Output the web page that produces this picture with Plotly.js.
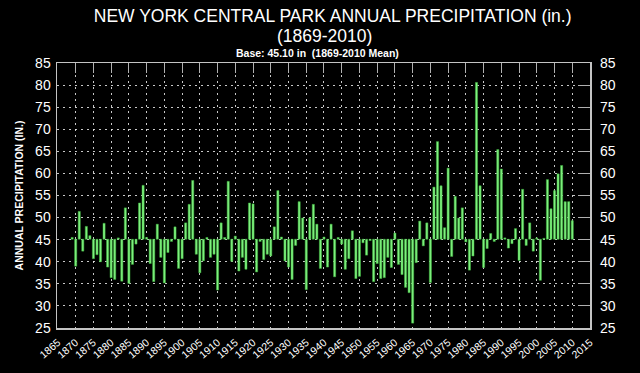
<!DOCTYPE html>
<html><head><meta charset="utf-8">
<script src="https://cdn.plot.ly/plotly-3.0.1.min.js"></script>
<style>html,body{margin:0;padding:0;background:#000;}#chart{width:640px;height:373px;}</style>
</head><body><div id="chart"></div>
<script>
const BASE = 45.10;
const years = [1869,1870,1871,1872,1873,1874,1875,1876,1877,1878,1879,
1880,1881,1882,1883,1884,1885,1886,1887,1888,1889,
1890,1891,1892,1893,1894,1895,1896,1897,1898,1899,
1900,1901,1902,1903,1904,1905,1906,1907,1908,1909,
1910,1911,1912,1913,1914,1915,1916,1917,1918,1919,
1920,1921,1922,1923,1924,1925,1926,1927,1928,1929,
1930,1931,1932,1933,1934,1935,1936,1937,1938,1939,
1940,1941,1942,1943,1944,1945,1946,1947,1948,1949,
1950,1951,1952,1953,1954,1955,1956,1957,1958,1959,
1960,1961,1962,1963,1964,1965,1966,1967,1968,1969,
1970,1971,1972,1973,1974,1975,1976,1977,1978,1979,
1980,1981,1982,1983,1984,1985,1986,1987,1988,1989,
1990,1991,1992,1993,1994,1995,1996,1997,1998,1999,
2000,2001,2002,2003,2004,2005,2006,2007,2008,2009,2010];
const precip = [45.5,39.0,51.4,42.4,48.0,45.9,40.7,41.6,40.0,48.7,38.8,
36.4,36.0,45.4,35.6,52.2,35.1,39.4,44.0,53.3,57.3,
45.5,39.6,35.5,48.5,41.0,35.2,42.1,44.6,47.9,38.5,
40.7,48.8,53.0,58.4,41.7,37.5,40.2,45.5,41.0,41.7,
33.6,48.8,45.5,58.2,40.1,45.8,37.9,41.0,38.3,53.3,
53.1,37.7,44.6,40.5,41.7,41.3,47.9,56.1,45.6,40.2,
38.8,36.0,43.7,53.6,49.9,33.7,49.9,53.0,48.5,38.5,
45.6,38.8,48.5,36.6,45.5,44.0,38.3,40.7,47.0,36.2,
36.7,44.3,41.5,44.8,35.5,39.6,36.2,36.4,41.0,38.7,
46.5,39.4,37.1,34.2,33.0,26.1,39.8,49.2,43.6,48.8,
35.3,56.9,67.2,57.2,47.7,61.2,41.2,54.8,49.9,52.2,
44.5,38.1,41.3,80.6,57.2,38.7,43.0,46.4,44.6,65.4,
61.0,45.4,43.1,44.1,47.5,40.3,56.4,43.7,48.8,42.4,
45.4,35.8,45.3,58.6,52.0,56.1,59.9,61.8,53.6,53.6,49.3];
const xTicks = [1865,1870,1875,1880,1885,1890,1895,1900,1905,1910,1915,1920,1925,1930,1935,1940,1945,1950,1955,1960,1965,1970,1975,1980,1985,1990,1995,2000,2005,2010,2015];
const yTicks = [25,30,35,40,45,50,55,60,65,70,75,80,85];

const XR = [1864.73, 2015.0];
const YR = [25, 85];
const FONT = 'Liberation Sans, Arial, Helvetica, sans-serif';
const gridCol = 'rgba(235,235,235,0.85)';
const frameCol = '#c4c4c4';

const traces = [
  {
    type: 'bar',
    x: years,
    y: precip.map(v => v - BASE),
    base: BASE,
    width: 0.6,
    marker: {color: '#80f080', line: {color: '#3cb83c', width: 0.5}},
    hoverinfo: 'skip'
  },
  {type: 'scatter', x: [], y: [], xaxis: 'x2', yaxis: 'y2', hoverinfo: 'skip', showlegend: false}
];

const layout = {
  width: 640, height: 373,
  paper_bgcolor: '#000', plot_bgcolor: '#000',
  margin: {l: 57, r: 50, t: 63, b: 45},
  showlegend: false,
  font: {family: FONT, color: '#fff'},
  title: {
    text: 'NEW YORK CENTRAL PARK ANNUAL PRECIPITATION (in.)',
    x: 331/640, xanchor: 'center', xref: 'paper',
    y: 1 - 16/373, yanchor: 'middle',
    font: {size: 17.5, color: '#fff', family: FONT}
  },
  annotations: [
    {text: '(1869-2010)', xref: 'paper', yref: 'paper', x: (324-57)/533, y: (328-36)/265,
     xanchor: 'center', yanchor: 'middle', showarrow: false, font: {size: 17.5, color: '#fff', family: FONT}},
    {text: '<b>Base: 45.10 in  (1869-2010 Mean)</b>', xref: 'paper', yref: 'paper', x: (317-57)/533, y: (328-53)/265,
     xanchor: 'center', yanchor: 'middle', showarrow: false, font: {size: 10.5, color: '#fff', family: FONT}}
  ],
  xaxis: {
    range: XR, tickmode: 'array', tickvals: xTicks, ticktext: xTicks.map(String),
    tickangle: -40, tickfont: {size: 10.5, color: '#fff'}, ticklabelstandoff: 3,
    ticks: '', showgrid: true, gridcolor: gridCol, gridwidth: 1, griddash: '2px,4px',
    showline: true, linecolor: frameCol, linewidth: 1.5, mirror: true, zeroline: false, fixedrange: true
  },
  yaxis: {
    range: YR, tickmode: 'array', tickvals: yTicks, ticktext: yTicks.map(String),
    tickfont: {size: 14, color: '#fff'}, ticks: '', ticklabelstandoff: 2,
    showgrid: true, gridcolor: gridCol, gridwidth: 1, griddash: '2px,4px',
    showline: true, linecolor: frameCol, linewidth: 1.5, mirror: true, zeroline: false,
    title: {text: '<b>ANNUAL PRECIPITATION (IN.)</b>', font: {size: 10.5, color: '#fff', family: FONT}, standoff: 9},
    fixedrange: true
  },
  xaxis2: {
    overlaying: 'x', side: 'top', anchor: 'y', range: XR, tickmode: 'array', tickvals: xTicks,
    ticks: 'inside', ticklen: 10, tickwidth: 1, tickcolor: '#b0b0b0',
    showticklabels: false, showgrid: false, showline: false, zeroline: false, fixedrange: true
  },
  yaxis2: {
    overlaying: 'y', side: 'right', anchor: 'x', range: YR, tickmode: 'array', tickvals: yTicks, ticktext: yTicks.map(String),
    ticks: 'inside', ticklen: 12, tickwidth: 1, tickcolor: '#b0b0b0',
    tickfont: {size: 14, color: '#fff'}, ticklabelstandoff: 9,
    showticklabels: true, showgrid: false, showline: false, zeroline: false, fixedrange: true
  }
};

Plotly.newPlot('chart', traces, layout, {displayModeBar: false, staticPlot: true});
</script>
</body></html>
